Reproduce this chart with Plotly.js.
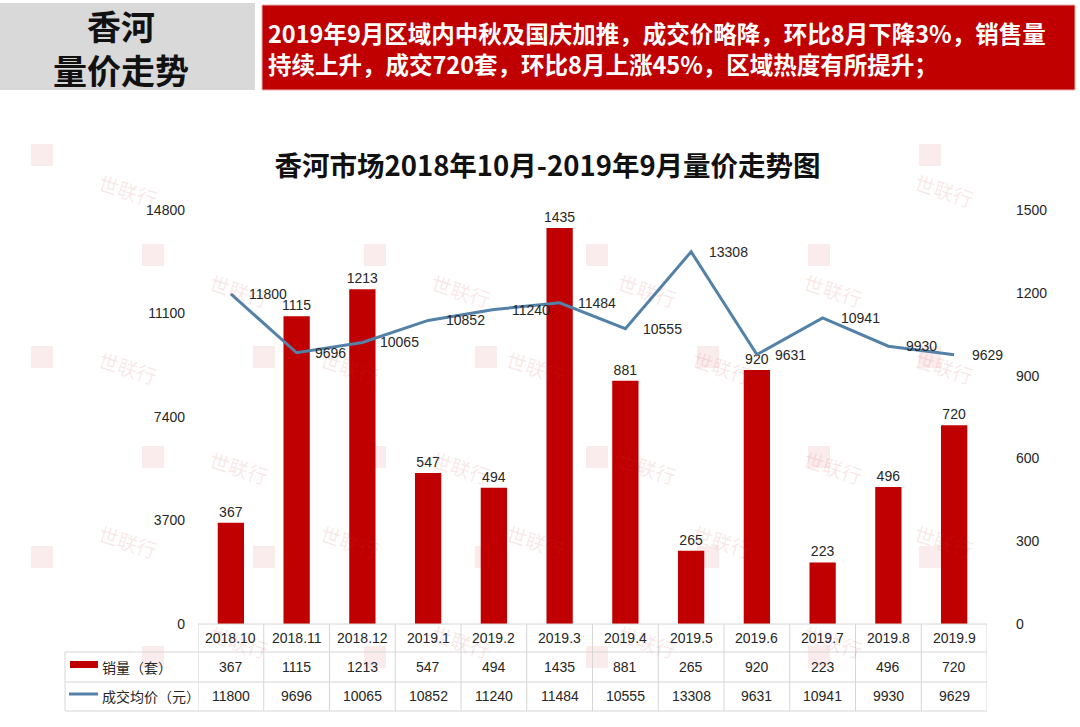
<!DOCTYPE html>
<html><head><meta charset="utf-8">
<script src="https://cdn.plot.ly/plotly-3.0.1.min.js"></script>
<style>html,body{margin:0;padding:0;background:#fff;}</style>
</head><body>
<div id="chart" style="width:1080px;height:727px"></div>
<script>
const months = ['2018.10','2018.11','2018.12','2019.1','2019.2','2019.3','2019.4','2019.5','2019.6','2019.7','2019.8','2019.9'];
const sales = [367,1115,1213,547,494,1435,881,265,920,223,496,720];
const prices = [11800,9696,10065,10852,11240,11484,10555,13308,9631,10941,9930,9629];
const leftTicks = [0,3700,7400,11100,14800];
const rightTicks = [0,300,600,900,1200,1500];
const seriesNames = ['销量（套）','成交均价（元）'];
const headerLeft = ['香河','量价走势'];
const headerRight = ['2019年9月区域内中秋及国庆加推，成交价略降，环比8月下降3%，销售量','持续上升，成交720套，环比8月上涨45%，区域热度有所提升；'];
const chartTitle = '香河市场2018年10月-2019年9月量价走势图';
const watermark = '世联行';

const W = 1080, H = 727;
const L = 198, R = 987, T = 210, B = 624;
const px = x => (x - L) / (R - L);
const py = y => (B - y) / (B - T);

const RED = '#C00000', BLUE = '#5381A8', TXT = '#262626', GRID = '#D6D6D6';
const NUMF = 'Liberation Sans, Arial, sans-serif';
const CJK = 'Noto Sans CJK SC, sans-serif';

const traces = [
  {type:'bar', x: months, y: sales, name: seriesNames[0], yaxis:'y',
   marker:{color:RED}, text: sales.map(String), textposition:'outside', constraintext:'none',
   textfont:{family:NUMF,size:14,color:TXT}, cliponaxis:false, hoverinfo:'x+y'},
  {type:'scatter', mode:'lines', x: months, y: prices, name: seriesNames[1], yaxis:'y2',
   line:{color:BLUE,width:3}, cliponaxis:false}
];

const shapes = [];
const annotations = [];

// header boxes
shapes.push({type:'rect', xref:'paper', yref:'paper', x0:px(0), x1:px(255), y0:py(3), y1:py(90),
  fillcolor:'#D9D9D9', line:{width:0}, layer:'below'});
shapes.push({type:'rect', xref:'paper', yref:'paper', x0:px(262), x1:px(1075), y0:py(5), y1:py(90),
  fillcolor:RED, line:{color:'#E8B0B0',width:1}, layer:'below'});
annotations.push({xref:'paper', yref:'paper', x:px(121), y:py(47),
  text:'<b>'+headerLeft.join('<br>')+'</b>', showarrow:false, xanchor:'center', yanchor:'middle', align:'center',
  font:{family:CJK,size:34,color:'#111'}});
annotations.push({xref:'paper', yref:'paper', x:px(266), y:py(48),
  text:'<b>'+headerRight.join('<br>')+'</b>', showarrow:false, xanchor:'left', yanchor:'middle', align:'left',
  font:{family:CJK,size:23.5,color:'#fff'}});

// watermarks
const wmRows = [155,255,357,457,557,657];
wmRows.forEach((wy,ri)=>{
  const xs = ri%2===0 ? [42,264,486,708,930] : [153,375,597,819];
  xs.forEach(wx=>{
    if (ri===0 && wx>200 && wx<900) return;
    shapes.push({type:'rect', xref:'paper', yref:'paper', x0:px(wx-11), x1:px(wx+11), y0:py(wy-11), y1:py(wy+11),
      fillcolor:'rgba(200,40,40,0.09)', line:{width:0}, layer:'below'});
    annotations.push({xref:'paper', yref:'paper', x:px(wx+50), y:py(wy+10), text:watermark,
      showarrow:false, textangle:18, font:{family:CJK,size:20,color:'rgba(200,60,60,0.12)'}});
  });
});

// table grid
shapes.push({type:'line', xref:'paper', yref:'paper', x0:0, x1:1, y0:0, y1:0, line:{color:GRID,width:1}});
[652,682,711].forEach(y=>shapes.push({type:'line', xref:'paper', yref:'paper', x0:px(65), x1:1, y0:py(y), y1:py(y), line:{color:GRID,width:1}}));
for (let i=0;i<=months.length;i++){
  shapes.push({type:'line', xref:'x', yref:'paper', x0:i-0.5, x1:i-0.5, y0:0, y1:py(711), line:{color:GRID,width:1}});
}
shapes.push({type:'line', xref:'paper', yref:'paper', x0:px(65), x1:px(65), y0:py(652), y1:py(711), line:{color:GRID,width:1}});

// legend swatches
shapes.push({type:'rect', xref:'paper', yref:'paper', x0:px(70), x1:px(98), y0:py(668), y1:py(661), fillcolor:RED, line:{width:0}});
shapes.push({type:'line', xref:'paper', yref:'paper', x0:px(69), x1:px(98), y0:py(694), y1:py(694), line:{color:BLUE,width:3}});
annotations.push({xref:'paper', yref:'paper', x:px(100), y:py(667), text:seriesNames[0], showarrow:false, xanchor:'left', yanchor:'middle', font:{family:CJK,size:14,color:TXT}});
annotations.push({xref:'paper', yref:'paper', x:px(100), y:py(696), text:seriesNames[1], showarrow:false, xanchor:'left', yanchor:'middle', font:{family:CJK,size:14,color:TXT}});

// table cells
months.forEach((m,i)=>{
  annotations.push({xref:'x', yref:'paper', x:i, y:py(638), text:m, showarrow:false, yanchor:'middle', font:{family:NUMF,size:14,color:TXT}});
  annotations.push({xref:'x', yref:'paper', x:i, y:py(667), text:String(sales[i]), showarrow:false, yanchor:'middle', font:{family:NUMF,size:14,color:TXT}});
  annotations.push({xref:'x', yref:'paper', x:i, y:py(696), text:String(prices[i]), showarrow:false, yanchor:'middle', font:{family:NUMF,size:14,color:TXT}});
  // line data labels
  annotations.push({xref:'x', yref:'y2', x:i, y:prices[i], text:String(prices[i]), showarrow:false, xanchor:'left', yanchor:'middle', xshift:16, font:{family:NUMF,size:14,color:TXT}});
});

const layout = {
  width:W, height:H, paper_bgcolor:'#fff', plot_bgcolor:'rgba(0,0,0,0)',
  margin:{l:L, r:W-R, t:T, b:H-B, pad:0},
  showlegend:false,
  title:{text:'<b>'+chartTitle+'</b>', x:0.507, xref:'container', y:1-166/727, yref:'container', xanchor:'center', yanchor:'middle',
    font:{family:CJK,size:27.5,color:'#111'}},
  bargap:0.6,
  xaxis:{type:'category', range:[-0.5, months.length-0.5], showticklabels:false, showgrid:false, zeroline:false, showline:false, ticks:''},
  yaxis:{side:'right', range:[0,1500], tickvals:rightTicks, ticktext:rightTicks.map(String), showgrid:false, zeroline:false, showline:false, ticks:'',
    ticklabelstandoff:28, tickfont:{family:NUMF,size:14,color:TXT}},
  yaxis2:{side:'left', overlaying:'y', range:[0,14800], tickvals:leftTicks, ticktext:leftTicks.map(String), showgrid:false, zeroline:false, showline:false, ticks:'',
    ticklabelstandoff:12, tickfont:{family:NUMF,size:14,color:TXT}},
  shapes:shapes, annotations:annotations
};

Plotly.newPlot('chart', traces, layout, {displayModeBar:false, staticPlot:true});
</script>
</body></html>
